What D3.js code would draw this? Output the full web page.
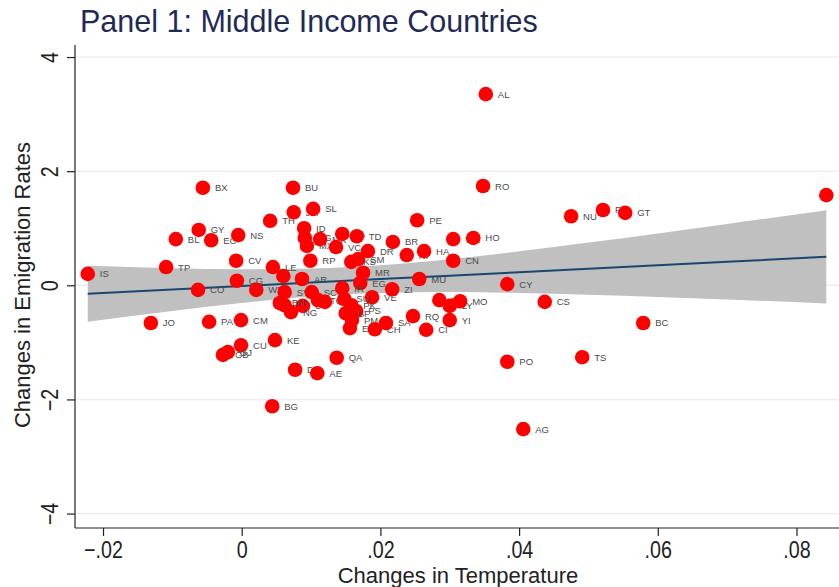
<!DOCTYPE html>
<html>
<head>
<meta charset="utf-8">
<script src="https://cdn.jsdelivr.net/npm/d3@7"></script>
<style>
  html, body { margin: 0; padding: 0; background: #ffffff; }
  svg { display: block; font-family: "Liberation Sans", Arial, sans-serif; }
</style>
</head>
<body>
<svg id="chart" width="839" height="587"></svg>
<script>
// Country codes with change in temperature (x) and change in emigration rate (y)
const codes = ["IS","JO","TP","BL","GY","BX","EC","NS","CV","CO","CG","WE","PA","CM","CU","GB","GJ","KE","BG","TH",
  "BU","JM","SL","ID","GG","MX","MK","JA","TD","VC","DR","BR","NI","HA","PE","WZ","HO","CN","RO","AL",
  "NU","FJ","GT","FM","CY","CS","BC","PO","TS","AG","MU","RP","KS","SM","MR","EG","IR","VE","ZI","LE",
  "IZ","AR","SY","SC","GH","UV","NG","TO","CE","SU","PK","PS","SF","PM","ES","CH","SA","RQ","CI","TU",
  "LY","MO","YI","QA","DJ","AE","BN"];
const tempChange = [-0.0222,-0.0131,-0.0109,-0.0095,-0.0062,-0.0056,-0.0044,-0.0005,-0.0008,-0.0063,-0.0007,0.0021,-0.0047,-0.0001,-0.0001,-0.0027,-0.0020,0.0048,0.0044,0.0041,
  0.0074,0.0075,0.0103,0.0090,0.0091,0.0094,0.0113,0.0145,0.0166,0.0136,0.0182,0.0218,0.0238,0.0263,0.0253,0.0305,0.0334,0.0305,0.0348,0.0352,
  0.0475,0.0521,0.0553,0.0843,0.0383,0.0437,0.0579,0.0383,0.0491,0.0406,0.0256,0.0099,0.0158,0.0168,0.0175,0.0171,0.0145,0.0188,0.0217,0.0045,
  0.0060,0.0087,0.0062,0.0101,0.0062,0.0088,0.0071,0.0110,0.0120,0.0148,0.0158,0.0165,0.0150,0.0159,0.0156,0.0192,0.0208,0.0247,0.0266,0.0285,
  0.0300,0.0315,0.0300,0.0137,0.0077,0.0109,0.0055];
const emigChange = [0.20,-0.66,0.32,0.81,0.97,1.71,0.79,0.88,0.43,-0.08,0.08,-0.08,-0.64,-0.61,-1.05,-1.22,-1.17,-0.96,-2.12,1.13,
  1.71,1.28,1.34,1.00,0.83,0.69,0.81,0.90,0.86,0.67,0.60,0.76,0.53,0.60,1.14,0.81,0.83,0.43,1.74,3.35,
  1.21,1.32,1.27,1.58,0.02,-0.29,-0.66,-1.34,-1.26,-2.52,0.11,0.43,0.41,0.46,0.22,0.04,-0.05,-0.21,-0.07,0.32,
  0.16,0.11,-0.12,-0.12,-0.35,-0.36,-0.47,-0.26,-0.29,-0.24,-0.35,-0.45,-0.49,-0.61,-0.75,-0.77,-0.66,-0.54,-0.78,-0.26,
  -0.36,-0.28,-0.61,-1.27,-1.48,-1.54,-0.31];

// Linear fit and its 95% confidence band
const ciX    = [-0.0222,-0.01,0.0,0.01,0.02,0.03,0.04,0.05,0.06,0.07,0.0843];
const fitY   = [-0.149,-0.074,-0.013,0.048,0.109,0.169,0.230,0.291,0.352,0.413,0.500];
const ciLow  = [-0.640,-0.449,-0.309,-0.197,-0.133,-0.119,-0.135,-0.166,-0.205,-0.249,-0.317];
const ciHigh = [0.342,0.301,0.283,0.293,0.351,0.457,0.595,0.748,0.909,1.075,1.317];

const xTicks = [-0.02, 0, 0.02, 0.04, 0.06, 0.08];
const yTicks = [-4, -2, 0, 2, 4];
const xDomain = [-0.02404, 0.08613];
const yDomain = [-4.253, 4.211];

const titleText = "Panel 1: Middle Income Countries";
const xTitle = "Changes in Temperature";
const yTitle = "Changes in Emigration Rates";

const svg = d3.select("#chart");
const plot = { left: 75, right: 839, top: 45, bottom: 528 };

const x = d3.scaleLinear().domain(xDomain).range([plot.left, plot.right]);
const y = d3.scaleLinear().domain(yDomain).range([plot.bottom, plot.top]);

const fmtX = v => v === 0 ? "0" : d3.format(".2f")(v).replace("0.", ".");

// horizontal grid
svg.append("g").selectAll("line").data(yTicks).join("line")
  .attr("x1", plot.left).attr("x2", plot.right)
  .attr("y1", d => y(d)).attr("y2", d => y(d))
  .attr("stroke", "#eaf0f2").attr("stroke-width", 1.5);

// confidence band
const band = ciX.map((v, i) => ({ x: v, lo: ciLow[i], hi: ciHigh[i] }));
svg.append("path").datum(band)
  .attr("fill", "#c0c0c0")
  .attr("d", d3.area().x(d => x(d.x)).y0(d => y(d.lo)).y1(d => y(d.hi)).curve(d3.curveMonotoneX));

// fitted line
svg.append("path").datum(ciX.map((v, i) => ({ x: v, y: fitY[i] })))
  .attr("fill", "none").attr("stroke", "#1a476f").attr("stroke-width", 2)
  .attr("d", d3.line().x(d => x(d.x)).y(d => y(d.y)));

// points with country labels
const pts = codes.map((c, i) => ({ c, x: tempChange[i], y: emigChange[i] }));
const g = svg.append("g");
pts.forEach(p => {
  g.append("circle").attr("cx", x(p.x)).attr("cy", y(p.y)).attr("r", 7.3).attr("fill", "#ff0000");
  g.append("text").attr("x", x(p.x) + 12).attr("y", y(p.y) + 3.5)
    .attr("font-size", 9.5).attr("fill", "#4a4a4a").text(p.c);
});

// axes
const xAxis = svg.append("g").attr("transform", `translate(0,${plot.bottom})`)
  .call(d3.axisBottom(x).tickValues(xTicks).tickFormat(fmtX).tickSize(8).tickPadding(5));
const yAxis = svg.append("g").attr("transform", `translate(${plot.left},0)`)
  .call(d3.axisLeft(y).tickValues(yTicks).tickFormat(d3.format("d")).tickSize(8));
[xAxis, yAxis].forEach(a => {
  a.select(".domain").attr("stroke", "#222").attr("stroke-width", 1.2);
  a.selectAll(".tick line").attr("stroke", "#222").attr("stroke-width", 1.2);
  a.selectAll("text").attr("fill", "#222").attr("font-size", 24)
    .attr("font-family", "'Liberation Sans', Arial, sans-serif");
});
xAxis.select(".domain").attr("d", `M${plot.left},0H${plot.right}`);
yAxis.select(".domain").attr("d", `M0,${plot.top}V${plot.bottom}`);
// tick labels are set in a tall, narrow style
xAxis.selectAll(".tick text").attr("transform", "scale(0.82,1)");
yAxis.selectAll(".tick text")
  .attr("x", 0).attr("dy", 0)
  .attr("transform", "translate(-17,0) rotate(-90) scale(0.82,1)")
  .attr("text-anchor", "middle");

// titles
svg.append("text").attr("x", 80).attr("y", 32).attr("font-size", 30.5)
  .attr("fill", "#1f2a56").text(titleText);
svg.append("text").attr("x", 458).attr("y", 583).attr("text-anchor", "middle")
  .attr("font-size", 22).attr("fill", "#222").text(xTitle);
svg.append("text").attr("transform", "translate(30,285) rotate(-90)").attr("text-anchor", "middle")
  .attr("font-size", 22).attr("fill", "#222").text(yTitle);
</script>
</body>
</html>
